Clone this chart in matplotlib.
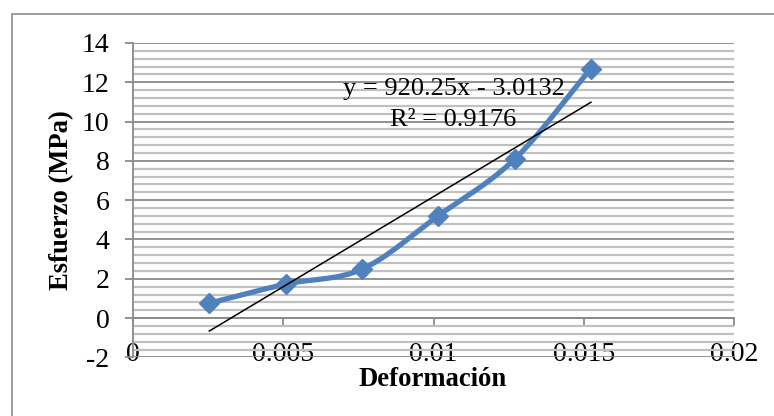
import numpy as np
import matplotlib
matplotlib.use("Agg")
import matplotlib.pyplot as plt
from matplotlib.patches import Rectangle
from matplotlib.ticker import MultipleLocator, FixedLocator

# Data
deformacion = [0.00254, 0.00508, 0.00762, 0.01016, 0.0127, 0.01524]
esfuerzo = [0.76, 1.73, 2.49, 5.21, 8.09, 12.70]
x_ticks = [0, 0.005, 0.01, 0.015, 0.02]
x_tick_labels = ["0", "0.005", "0.01", "0.015", "0.02"]
y_ticks = [-2, 0, 2, 4, 6, 8, 10, 12, 14]
eq_text = "y = 920.25x - 3.0132"
r2_text = "R² = 0.9176"

plt.rcParams['font.family'] = ['Liberation Serif', 'DejaVu Serif']
plt.rcParams['axes.unicode_minus'] = False

W, H = 774, 416
fig = plt.figure(figsize=(W / 100, H / 100), dpi=100)

# outer chart border
fig.patches.append(Rectangle((12 / W, -0.1), 1.2, (416 - 14) / H + 0.1,
                             transform=fig.transFigure, fill=False,
                             edgecolor='#8c8c8c', linewidth=1.2))

left, right, top, bottom = 133, 734, 43, 357.4
ax = fig.add_axes([left / W, (H - bottom) / H, (right - left) / W, (bottom - top) / H])
ax.set_xlim(0, 0.02)
ax.set_ylim(-2, 14)

# gridlines
ax.yaxis.set_major_locator(FixedLocator(y_ticks))
ax.yaxis.set_minor_locator(MultipleLocator(0.4))
ax.grid(which='minor', axis='y', color='#c0c0c0', linewidth=1.6)
ax.grid(which='major', axis='y', color='#8a8a8a', linewidth=1.3)
ax.set_axisbelow(True)

for s in ['top', 'right']:
    ax.spines[s].set_visible(False)
ax.spines['left'].set_color('#8a8a8a')
ax.spines['left'].set_linewidth(1.3)
ax.spines['bottom'].set_position(('data', 0))
ax.spines['bottom'].set_color('#8a8a8a')
ax.spines['bottom'].set_linewidth(1.3)

ax.set_xticks(x_ticks)
ax.set_xticklabels(x_tick_labels)
ax.tick_params(axis='x', which='major', direction='out', length=6, width=1.3,
               color='#8a8a8a', pad=11, labelsize=20)
ax.tick_params(axis='y', which='major', direction='out', length=6, width=1.3,
               color='#8a8a8a', pad=11, labelsize=20)
ax.tick_params(axis='y', which='minor', length=0)

# smoothed line (Catmull-Rom spline through points)
xs = np.array(deformacion)
ys = np.array(esfuerzo)
sx = xs / 0.02 * 601
sy = ys / 16 * 314
P = np.column_stack([sx, sy])
Pp = np.vstack([P[0] - (P[1] - P[0]), P, P[-1] + (P[-1] - P[-2])])
curve = []
for i in range(1, len(Pp) - 2):
    p0, p1, p2, p3 = Pp[i - 1], Pp[i], Pp[i + 1], Pp[i + 2]
    t = np.linspace(0, 1, 40)[:, None]
    c = 0.5 * ((2 * p1) + (-p0 + p2) * t + (2 * p0 - 5 * p1 + 4 * p2 - p3) * t ** 2
               + (-p0 + 3 * p1 - 3 * p2 + p3) * t ** 3)
    curve.append(c)
curve = np.vstack(curve)
cx = curve[:, 0] / 601 * 0.02
cy = curve[:, 1] / 314 * 16
ax.plot(cx, cy, color='#4f81bd', linewidth=3.8, solid_capstyle='round', zorder=3)
ax.plot(xs, ys, linestyle='none', marker='D', markersize=10.5,
        color='#4f81bd', zorder=4)

# linear trendline
m, b = np.polyfit(xs, ys, 1)
tx = np.array([xs[0], xs[-1]])
ax.plot(tx, m * tx + b, color='black', linewidth=1.1, zorder=5)

fig.text(454 / W, 1 - 89 / H, eq_text, ha='center', va='center', fontsize=19)
fig.text(453 / W, 1 - 120 / H, r2_text, ha='center', va='center', fontsize=19)

fig.text(62 / W, 1 - 200 / H, "Esfuerzo (MPa)", rotation=90, ha='center', va='center',
         fontsize=19.2, fontweight='bold')
fig.text(433 / W, 1 - 379 / H, "Deformación", ha='center', va='center',
         fontsize=19.2, fontweight='bold')

fig.savefig("out.png", dpi=100)
